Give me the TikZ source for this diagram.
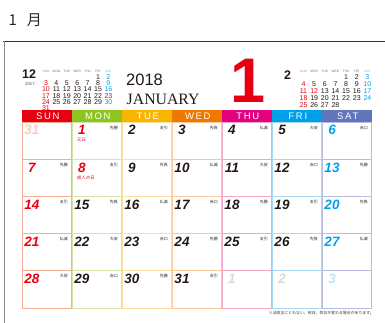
\documentclass[tikz,border=0pt]{standalone}
\usepackage{fontspec}
\setmainfont{Liberation Serif}
\setsansfont{Liberation Sans}
\newfontfamily\jpfont{Noto Sans CJK JP}
\newfontfamily\hdrfont[LetterSpace=18]{Liberation Sans}
\usepackage{tikz}

\definecolor{sunc}{HTML}{E60012}
\definecolor{monc}{HTML}{8FC31F}
\definecolor{tuec}{HTML}{F8B500}
\definecolor{wedc}{HTML}{EE7800}
\definecolor{thuc}{HTML}{E4007F}
\definecolor{fric}{HTML}{00A0E9}
\definecolor{satc}{HTML}{6175BA}
\definecolor{sunl}{HTML}{F5AE94}
\definecolor{monl}{HTML}{D3E7A4}
\definecolor{tuel}{HTML}{FDE0A0}
\definecolor{wedl}{HTML}{FAC99A}
\definecolor{thul}{HTML}{F2A5C8}
\definecolor{fril}{HTML}{A6D9F3}
\definecolor{satl}{HTML}{B6BBE0}
\definecolor{numblack}{HTML}{231815}
\definecolor{sunfade}{HTML}{F9CDBD}
\definecolor{nextfade}{HTML}{D9D9D9}
\definecolor{satfade}{HTML}{BFE4F8}
\definecolor{framedark}{HTML}{333333}
\definecolor{framegray}{HTML}{8A8A8A}

\begin{document}
\begin{tikzpicture}[x=1pt,y=-1pt,
	daynum/.style={anchor=base,inner sep=0pt,font=\sffamily\bfseries\itshape\fontsize{13.5}{14}\selectfont},
	rokuyo/.style={anchor=east,inner sep=0pt,font=\jpfont\fontsize{4}{4}\selectfont,text=black!85},
	holiday/.style={anchor=west,inner sep=0pt,font=\jpfont\fontsize{4.4}{4.4}\selectfont,text=sunc},
	hdr/.style={inner sep=0pt,text=white,font=\hdrfont\fontsize{9.5}{10}\selectfont},
	mini/.style={inner sep=0pt,font=\sffamily\fontsize{7}{7}\selectfont},
	minihdr/.style={inner sep=0pt,font=\sffamily\fontsize{3.2}{3.2}\selectfont}]
\useasboundingbox (0,0) rectangle (385,323);

% frame and title
\draw[framedark,line width=0.9pt] (3,41.6) -- (385,41.6);
\draw[framegray,line width=1.6pt] (4.3,41.2) -- (4.3,323);
\node[anchor=base west,inner sep=0pt,font=\jpfont\fontsize{15}{15}\selectfont,text=black!85] (title) at (8.5,25.5) {1\hspace{0.65em}月};

\node[anchor=base west,inner sep=0pt,font=\sffamily\fontsize{16.5}{17}\selectfont,text=numblack] (year) at (126,86) {2018};
\node[anchor=base west,inner sep=0pt,font=\rmfamily\fontsize{15.8}{16}\selectfont,text=numblack] (month) at (126.5,105) {JANUARY};
\node[anchor=base,inner sep=0pt,font=\sffamily\bfseries\fontsize{63}{63}\selectfont,text=sunc] (bigone) at (248,103) {1};

% small months
\node[inner sep=0pt,font=\sffamily\bfseries\fontsize{12.5}{13}\selectfont,text=numblack] (decmon) at (29.2,74.5) {12};
\node[inner sep=0pt,font=\sffamily\fontsize{4.3}{4.3}\selectfont,text=black!70] (decyear) at (30,84) {2017};
\node[inner sep=0pt,font=\sffamily\bfseries\fontsize{12.5}{13}\selectfont,text=numblack] (febmon) at (287.5,74.7) {2};
\foreach \dname [count=\col from 0] in {SUN,MON,TUE,WED,THU,FRI,SAT}
{
	\def\numcol{black!55}
	\ifnum\col=0 \def\numcol{sunc!60}\fi
	\ifnum\col=6 \def\numcol{fric!70}\fi
	\node[minihdr,text=\numcol] (dh\col) at (46+10.4*\col,71) {\dname};
	\node[minihdr,text=\numcol] (fh\col) at (303.5+10.65*\col,71) {\dname};
}
\foreach \dd in {1,...,31}
{
	\pgfmathtruncatemacro\col{mod(\dd+4,7)}
	\pgfmathtruncatemacro\row{(\dd+4)/7}
	\def\numcol{numblack}
	\ifnum\col=0 \def\numcol{sunc}\fi
	\ifnum\col=6 \def\numcol{fric}\fi
	\ifnum\dd=23 \def\numcol{sunc}\fi
	\node[mini,text=\numcol] (dec\dd) at (46+10.4*\col,77+6.2*\row) {\dd};
}
\foreach \dd in {1,...,28}
{
	\pgfmathtruncatemacro\col{mod(\dd+3,7)}
	\pgfmathtruncatemacro\row{(\dd+3)/7}
	\def\numcol{numblack}
	\ifnum\col=0 \def\numcol{sunc}\fi
	\ifnum\col=6 \def\numcol{fric}\fi
	\ifnum\dd=12 \def\numcol{sunc}\fi
	\node[mini,text=\numcol] (feb\dd) at (303.5+10.65*\col,77+6.9*\row) {\dd};
}

% main grid
\foreach \lc [count=\col from 0] in {sunl,monl,tuel,wedl,thul,fril,satl}
{
	\foreach \row in {0,...,4}
	{
		\draw[\lc,line width=0.9pt] (22.5+50*\col,122+37.2*\row) rectangle ++(49,37.2);
	}
}
\foreach \dname/\hc [count=\col from 0] in {SUN/sunc,MON/monc,TUE/tuec,WED/wedc,THU/thuc,FRI/fric,SAT/satc}
{
	\fill[\hc] (22+50*\col,110) rectangle ++(50,12);
	\node[hdr] (h\col) at (47.8+50*\col,116.2) {\dname};
}
\foreach \rk [count=\n from 0] in {{},先勝,友引,先負,仏滅,大安,赤口,先勝,友引,先負,仏滅,大安,赤口,先勝,友引,先負,仏滅,赤口,先勝,友引,先負,仏滅,大安,赤口,先勝,友引,先負,仏滅,大安,赤口,先勝,友引,{},{},{}}
{
	\pgfmathtruncatemacro\col{mod(\n,7)}
	\pgfmathtruncatemacro\row{\n/7}
	\pgfmathtruncatemacro\dd{\n==0 ? 31 : (\n>31 ? \n-31 : \n)}
	\def\numcol{numblack}
	\ifnum\col=0 \def\numcol{sunc}\fi
	\ifnum\col=6 \def\numcol{fric}\fi
	\ifnum\n=1 \def\numcol{sunc}\fi
	\ifnum\n=8 \def\numcol{sunc}\fi
	\ifnum\n=0 \def\numcol{sunfade}\fi
	\ifnum\n>31 \ifnum\col=6 \def\numcol{satfade}\else\def\numcol{nextfade}\fi\fi
	\node[daynum,text=\numcol] (day\n) at (32+50*\col,135+37.2*\row) {\dd};
	\ifnum\n>0 \ifnum\n<32
		\node[rokuyo] (rk\n) at (68+50*\col,127.5+37.2*\row) {\rk};
	\fi\fi
}
\node[holiday] (hol1) at (77,140) {元日};
\node[holiday] (hol8) at (77,177.5) {成人の日};
\node[anchor=east,inner sep=0pt,font=\jpfont\fontsize{3.9}{4}\selectfont,text=black!80] (note) at (374,313) {※法改正にともない、祝日、休日が変わる場合があります。};
\end{tikzpicture}
\end{document}
